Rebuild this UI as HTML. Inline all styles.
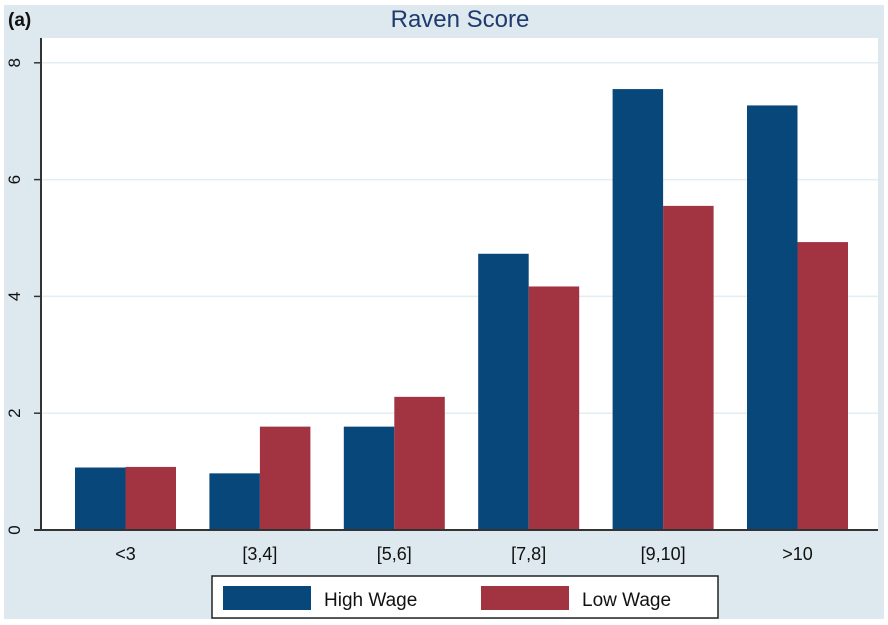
<!DOCTYPE html>
<html><head><style>
body{margin:0;background:#fff;}
svg{display:block;font-family:"Liberation Sans",sans-serif;}
</style></head><body>
<svg width="888" height="625">
<rect x="4" y="5" width="880" height="614" fill="#dde9ee"/>
<rect x="41" y="38" width="837" height="492" fill="#fff"/>
<text x="8" y="26" font-size="19" font-weight="bold" fill="#111">(a)</text>
<text x="460" y="27" font-size="24" text-anchor="middle" fill="#1e3a6e">Raven Score</text>
<g id="grid"></g><g id="bars"></g><g id="axis"></g>
<g>
<rect x="212" y="576" width="506" height="42" fill="#fff" stroke="#222" stroke-width="1.5"/>
<rect x="223" y="586" width="88" height="24" fill="#08477a"/>
<text x="324" y="606" font-size="19" fill="#111">High Wage</text>
<rect x="481" y="586" width="88" height="24" fill="#a13440"/>
<text x="582" y="606" font-size="19" fill="#111">Low Wage</text>
</g>
</svg>
<script>
const categories=["<3","[3,4]","[5,6]","[7,8]","[9,10]",">10"];
const highWage=[1.07,0.97,1.77,4.73,7.55,7.27];
const lowWage=[1.08,1.77,2.28,4.17,5.55,4.93];
const yTicks=[0,2,4,6,8];
const NS="http://www.w3.org/2000/svg";
const y=v=>530-v*58.4;
const cx=i=>125.5+i*134.4;
const bw=50.5;
function mk(t,a,p){const e=document.createElementNS(NS,t);for(const k in a)e.setAttribute(k,a[k]);p.appendChild(e);return e;}
const grid=document.getElementById('grid'),bars=document.getElementById('bars'),axis=document.getElementById('axis');
yTicks.forEach(t=>{
 if(t>0){const g=mk('line',{x1:41,x2:878,y1:y(t),y2:y(t),stroke:'#e4eef2','stroke-width':1.5},grid);
 
 }
 const tk=mk('line',{x1:34,x2:41,y1:y(t),y2:y(t),stroke:'#333','stroke-width':1.5},axis);
 
 
 const tx=mk('text',{x:0,y:0,'font-size':17,fill:'#111','text-anchor':'middle',transform:`translate(20,${y(t)}) rotate(-90)`},axis);
 tx.textContent=t;
 
 
});
categories.forEach((c,i)=>{
 const h=mk('rect',{x:cx(i)-bw,y:y(highWage[i]),width:bw,height:530-y(highWage[i]),fill:'#08477a'},bars);
 
 
 const l=mk('rect',{x:cx(i),y:y(lowWage[i]),width:bw,height:530-y(lowWage[i]),fill:'#a13440'},bars);
 
 
 const t=mk('text',{x:cx(i),y:560,'font-size':18,fill:'#111','text-anchor':'middle'},axis);
 t.textContent=c;
 
 
});
const ya=mk('line',{x1:41,x2:41,y1:38,y2:531,stroke:'#333','stroke-width':2},axis);


const xa=mk('line',{x1:34,x2:878,y1:530,y2:530,stroke:'#333','stroke-width':2},axis);


</script>
</body></html>
